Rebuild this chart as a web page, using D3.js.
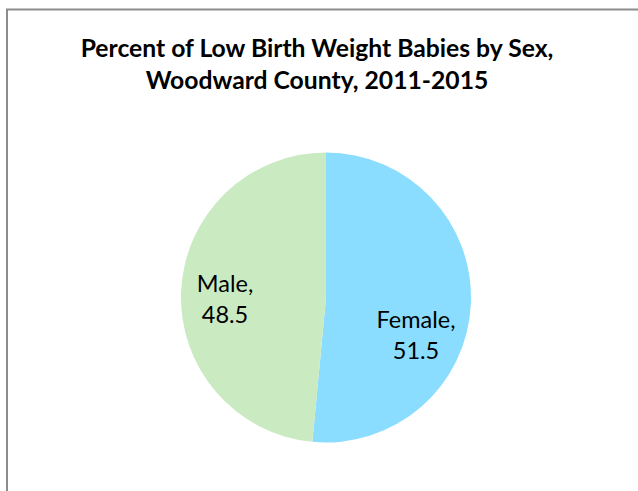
<!DOCTYPE html>
<html>
<head>
<meta charset="utf-8">
<script src="https://cdn.jsdelivr.net/npm/d3@7"></script>
<style>
  body { margin: 0; background: #fff; }
  svg { display: block; }
  text { font-family: Lato, "Open Sans", sans-serif; fill: #000; }
</style>
</head>
<body>
<div id="chart"></div>
<script>
// data
var categories = ["Female", "Male"];
var values = [51.5, 48.5];
var colors = ["#8BDDFF", "#CAEAC2"];
var titleLines = ["Percent of Low Birth Weight Babies by Sex,", "Woodward County, 2011-2015"];

var width = 638,
  height = 491,
  cx = 326,
  cy = 297.5,
  radius = 145;

var svg = d3.select("#chart").append("svg")
  .attr("width", width)
  .attr("height", height);

// chart frame, runs off the right and bottom edge
svg.append("rect")
  .attr("x", 7)
  .attr("y", 9.5)
  .attr("width", 700)
  .attr("height", 600)
  .attr("fill", "none")
  .attr("stroke", "#8c8c8c")
  .attr("stroke-width", 2);

svg.selectAll("text.title")
  .data(titleLines)
  .enter().append("text")
  .attr("class", "title")
  .attr("x", 317)
  .attr("y", function (d, i) { return 57 + i * 32; })
  .attr("text-anchor", "middle")
  .style("font-size", "24.7px")
  .style("font-weight", "bold")
  .text(function (d) { return d; });

var pie = d3.pie().sort(null);
var arc = d3.arc().innerRadius(0).outerRadius(radius);

var g = svg.append("g")
  .attr("transform", "translate(" + cx + "," + cy + ")");

var arcs = g.selectAll("g.arc")
  .data(pie(values))
  .enter().append("g")
  .attr("class", "arc");

arcs.append("path")
  .attr("d", arc)
  .attr("fill", function (d, i) { return colors[i]; });

// labels sit inside the slice, excel "best fit" nudges them a bit
var labelArc = d3.arc().innerRadius(radius * 0.68).outerRadius(radius * 0.68);
var nudge = function (i) { return i == 0 ? [-8.5, 26] : [-2.5, -1]; };

var labels = arcs.append("text")
  .attr("text-anchor", "middle")
  .attr("transform", function (d, i) {
    var c = labelArc.centroid(d);
    var n = nudge(i);
    return "translate(" + (c[0] + n[0]) + "," + (c[1] + n[1]) + ")";
  })
  .style("font-size", "23.5px");

labels.append("tspan")
  .attr("x", 0)
  .attr("dy", 0)
  .text(function (d, i) { return categories[i] + ","; });

labels.append("tspan")
  .attr("x", 0)
  .attr("dy", 31)
  .text(function (d) { return d.value; });
</script>
</body>
</html>
